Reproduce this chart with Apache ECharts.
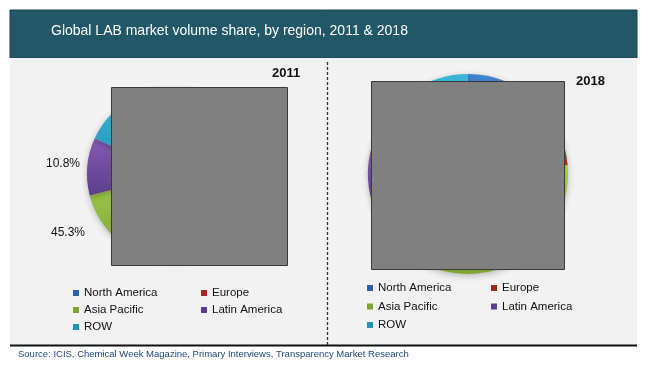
<!DOCTYPE html>
<html>
<head>
<meta charset="utf-8">
<script src="https://cdn.jsdelivr.net/npm/echarts@6/dist/echarts.min.js"></script>
<style>
html,body{margin:0;padding:0;background:#fff;}
#c{width:650px;height:372px;}
</style>
</head>
<body>
<div id="c"></div>
<script>
// ---- data ----
var regions = ['North America', 'Europe', 'Asia Pacific', 'Latin America', 'ROW'];
var share2011 = [13.5, 12.2, 45.3, 10.8, 18.2];
var share2018 = [12.4, 11.2, 46.4, 11.0, 19.0];
var labelled2011 = ['Asia Pacific', 'Latin America'];
var titleText = 'Global LAB market volume share, by region, 2011 & 2018';
var sourceText = 'Source: ICIS, Chemical Week Magazine, Primary Interviews, Transparency Market Research';

// ---- styles ----
var baseColors = {
  'North America': ['#3F84D0', '#2A62AA'],
  'Europe': ['#D03A36', '#A82522'],
  'Asia Pacific': ['#9FCB4C', '#7FA532'],
  'Latin America': ['#845BB2', '#5E3E8C'],
  'ROW': ['#3BB6D8', '#2593B4']
};
function grad(name) {
  var c = baseColors[name];
  return new echarts.graphic.LinearGradient(0, 0, 0, 1, [
    {offset: 0, color: c[0]}, {offset: 1, color: c[1]}
  ]);
}
function flat(name) { return baseColors[name][1]; }
function buildData(vals, labelled) {
  return regions.map(function (r, i) {
    return {
      name: r, value: vals[i],
      itemStyle: {color: grad(r)},
      label: {show: labelled.indexOf(r) >= 0}
    };
  });
}

var chart = echarts.init(document.getElementById('c'), null, {renderer: 'canvas'});

var legendText = {color: '#111', fontSize: 11.5, fontFamily: 'Liberation Sans, Arial, sans-serif', lineHeight: 14};
function legendCol(names, left, top, gap) {
  return {
    orient: 'vertical', left: left, top: top, padding: 0, itemGap: gap,
    itemWidth: 6, itemHeight: 6, icon: 'rect',
    data: names.map(function (n) { return {name: n, itemStyle: {color: flat(n)}}; }),
    textStyle: legendText, selectedMode: false
  };
}

var option = {
  animation: false,
  backgroundColor: '#ffffff',
  title: [
    {text: titleText, left: 51, top: 24, padding: 0,
     textStyle: {color: '#ffffff', fontSize: 14, fontWeight: 'normal', fontFamily: 'Liberation Sans, Arial, sans-serif'}},
    {text: '2011', left: 272, top: 67, padding: 0,
     textStyle: {color: '#111', fontSize: 13, fontWeight: 'bold', fontFamily: 'Liberation Sans, Arial, sans-serif'}},
    {text: '2018', left: 576, top: 75, padding: 0,
     textStyle: {color: '#111', fontSize: 13, fontWeight: 'bold', fontFamily: 'Liberation Sans, Arial, sans-serif'}},
    {text: sourceText, left: 18, top: 349, padding: 0,
     textStyle: {color: '#1F497D', fontSize: 9.5, fontWeight: 'normal', fontFamily: 'Liberation Sans, Arial, sans-serif'}}
  ],
  legend: [
    legendCol(['North America', 'Asia Pacific', 'ROW'], 73, 286, 3),
    legendCol(['Europe', 'Latin America'], 201, 286, 3),
    legendCol(['North America', 'Asia Pacific', 'ROW'], 367, 281, 4.5),
    legendCol(['Europe', 'Latin America'], 491, 281, 4.5)
  ],
  graphic: [
    {type: 'rect', z: -10, shape: {x: 10, y: 10, width: 627, height: 48}, style: {fill: '#215766', stroke: '#1a4652', lineWidth: 1}},
    {type: 'rect', z: -10, shape: {x: 10, y: 58, width: 627, height: 287}, style: {fill: '#F2F2F2'}},
    {type: 'line', z: -5, shape: {x1: 10, y1: 345.5, x2: 637, y2: 345.5}, style: {stroke: '#111', lineWidth: 2}},
    {type: 'line', z: -5, shape: {x1: 327.5, y1: 62, x2: 327.5, y2: 345}, style: {stroke: '#333', lineWidth: 1.3, lineDash: [3, 2]}},
    {type: 'rect', z: 100, shape: {x: 111.5, y: 87.5, width: 176, height: 178}, style: {fill: '#808080', stroke: '#3a3a3a', lineWidth: 1}},
    {type: 'rect', z: 100, shape: {x: 371.5, y: 81.5, width: 193, height: 188}, style: {fill: '#808080', stroke: '#3a3a3a', lineWidth: 1}}
  ],
  series: [
    {
      type: 'pie', name: '2011', center: [173, 174], radius: [0, 86],
      startAngle: 90, clockwise: true,
      data: buildData(share2011, labelled2011),
      itemStyle: {shadowBlur: 6, shadowColor: 'rgba(0,0,0,0.25)', shadowOffsetY: 2},
      label: {position: 'outside', overflow: 'none', edgeDistance: 0,
              formatter: function (p) { return p.value.toFixed(1) + '%'; },
              color: '#111', fontSize: 12, fontFamily: 'Liberation Sans, Arial, sans-serif'},
      labelLine: {show: false},
      labelLayout: function (p) {
        if (p.dataIndex === 3) return {x: 63, y: 164, align: 'center', verticalAlign: 'middle', width: 60};
        if (p.dataIndex === 2) return {x: 68, y: 233, align: 'center', verticalAlign: 'middle', width: 60};
        return {};
      },
      emphasis: {disabled: true}
    },
    {
      type: 'pie', name: '2018', center: [468, 174], radius: [0, 100],
      startAngle: 90, clockwise: true,
      data: buildData(share2018, []),
      itemStyle: {shadowBlur: 6, shadowColor: 'rgba(0,0,0,0.25)', shadowOffsetY: 2},
      label: {show: false}, labelLine: {show: false},
      emphasis: {disabled: true}
    }
  ]
};
chart.setOption(option);
</script>
</body>
</html>
